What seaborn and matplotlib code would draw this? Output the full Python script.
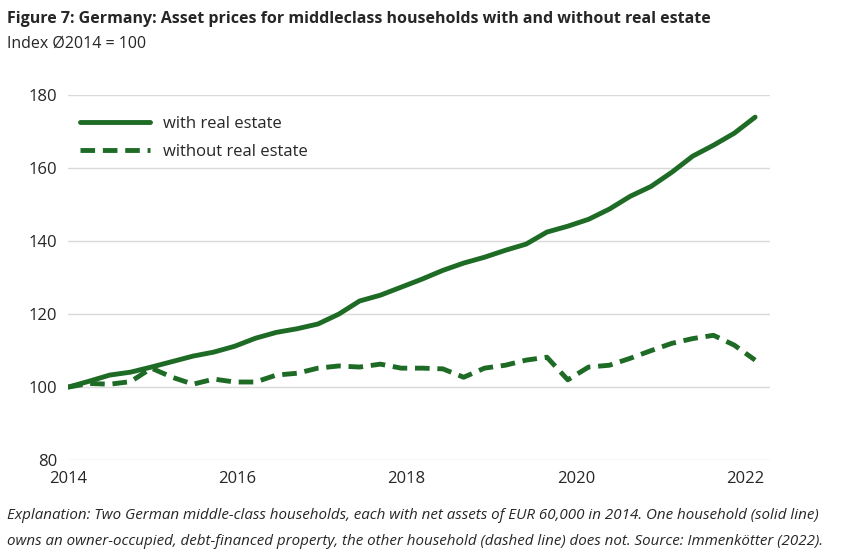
import numpy as np
import pandas as pd
import seaborn as sns
import matplotlib.pyplot as plt

# quarterly-ish observations, 2014 to early 2022
years = np.linspace(2014, 2022.12, 34)
with_re = [100, 101.6, 103.3, 104.1, 105.5, 107, 108.5, 109.6, 111.2, 113.4, 115, 116,
           117.3, 120, 123.6, 125.2, 127.4, 129.6, 132, 134, 135.6, 137.5, 139.2, 142.5,
           144.1, 146, 148.8, 152.3, 155, 158.9, 163.3, 166.3, 169.6, 174]
without_re = [100, 101, 100.8, 101.5, 105.2, 102.7, 100.8, 102.2, 101.4, 101.4, 103.3, 103.8,
              105.2, 105.8, 105.5, 106.3, 105.2, 105.2, 105, 102.7, 105.2, 106, 107.4, 108.2,
              102, 105.5, 106, 107.9, 110, 112, 113.3, 114.2, 111.5, 107.4]

df = pd.DataFrame({"year": years, "with real estate": with_re, "without real estate": without_re})
df = df.melt(id_vars="year", var_name="series", value_name="index")

sns.set_theme(style="white")
plt.rcParams['font.family'] = ['Open Sans', 'DejaVu Sans']

fig = plt.figure(figsize=(8.41, 5.57), dpi=100)
ax = fig.add_axes([0.081, 0.174, 0.835, 0.655])
green = "#1e6b26"
sns.lineplot(data=df, x="year", y="index", hue="series", style="series",
             palette=[green, green], dashes=[(None, None), (3, 1.6)], linewidth=3.5, ax=ax)

ax.set_xlim(2014, 2022.3)
ax.set_ylim(80, 180)
ax.set_xticks([2014, 2016, 2018, 2020, 2022])
ax.set_yticks(range(80, 181, 20))
ax.tick_params(labelsize=12, length=0, pad=8)
ax.yaxis.grid(True, color="#d9d9d9", linewidth=1)
ax.set_xlabel("")
ax.set_ylabel("")
for s in ax.spines.values():
    s.set_visible(False)
ax.set_axisbelow(True)

leg = ax.legend(loc="upper left", frameon=False, fontsize=12, handlelength=4.2,
                bbox_to_anchor=(-0.005, 0.985), labelspacing=0.75)

fig.text(0.008, 0.965, "Figure 7: Germany: Asset prices for middleclass households with and without real estate",
         fontsize=11.5, fontweight="bold", va="center")
fig.text(0.008, 0.922, "Index Ø2014 = 100", fontsize=11.5, va="center")
fig.text(0.008, 0.075, "Explanation: Two German middle-class households, each with net assets of EUR 60,000 in 2014. One household (solid line)",
         fontsize=10.9, style="italic", va="center")
fig.text(0.008, 0.028, "owns an owner-occupied, debt-financed property, the other household (dashed line) does not. Source: Immenkötter (2022).",
         fontsize=10.9, style="italic", va="center")

fig.savefig("out.png", dpi=100)
